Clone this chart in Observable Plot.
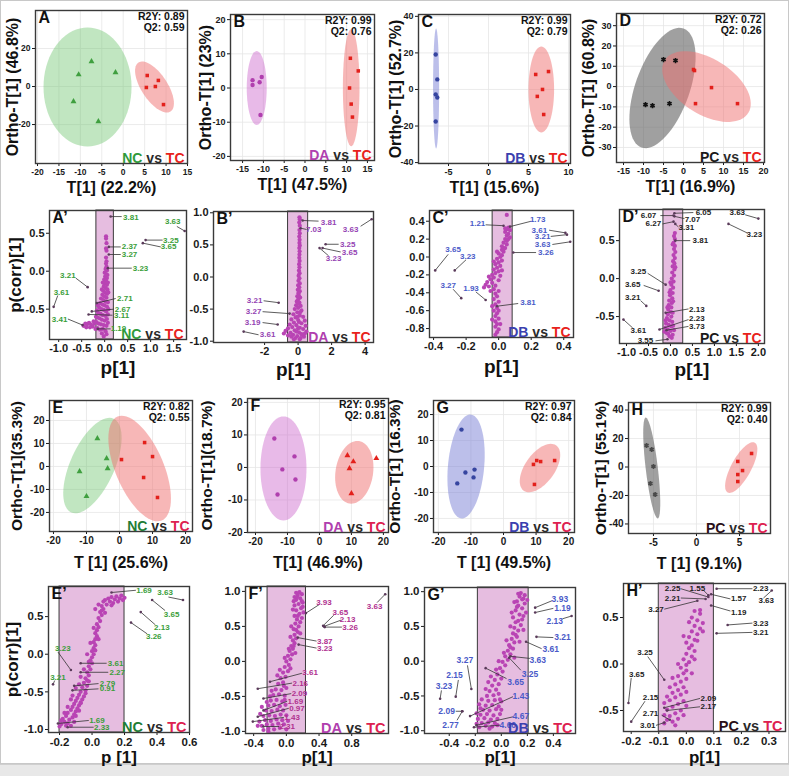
<!DOCTYPE html>
<html><head><meta charset="utf-8">
<script src="https://cdn.jsdelivr.net/npm/d3@7"></script>
<script src="https://cdn.jsdelivr.net/npm/@observablehq/plot@0.6"></script>
<style>
body{margin:0;background:#fff}
#fig{position:relative;width:789px;height:776px;overflow:hidden;background:#fff;font-family:'Liberation Sans',Arial,sans-serif}
</style>
</head><body><div id="fig"></div>
<script>
// ---------------- DATA ----------------
// Score plots (T[1], Ortho-T[1])
const aNC = [[-10.4,6.3],[-7.4,13.2],[-1.8,7.4],[-11.6,-7.9],[-5.8,-18.4]];
const aTC = [[5.6,5.8],[8.2,3.2],[5.4,-0.5],[7.5,0],[9.4,-9.5]];
const bDA = [[-12.6,2.3],[-10.4,3.2],[-10.9,1.7],[-12.6,0.9],[-10.7,-7.9]];
const bTC = [[10.9,8.7],[12.8,5],[10.7,0],[11.1,-4.7],[11.4,-8.5]];
const cDB = [[-6.6,19.1],[-6.4,5.5],[-6.6,-2.7],[-6.4,-4.4],[-6.6,-17.5]];
const cTC = [[5.9,8.2],[7.5,9.8],[6.75,0],[6.1,-3.8],[6.9,-13.7]];
const dPC = [[-9.5,-8.9],[-7.75,-9.4],[-3.5,-8.4],[-5,13.3],[-2,12.8]];
const dTC = [[2.5,8.4],[2.75,7.9],[7,-0.5],[3,-8.4],[13.5,-8.4]];
const eNC = [[-6.7,12.2],[-3.9,3.5],[-3.6,-0.9],[-12.1,-2.2],[-10,-13]];
const eTC = [[7.6,10.4],[10,4.3],[0.6,3],[7.3,-4.8],[11.5,-13.5]];
const fDA = [[-14.1,8.9],[-7.8,3.4],[-11.6,-0.6],[-7.5,-3.7],[-13.1,-8.3]];
const fTC = [[8.75,3.7],[10.6,1.8],[17.8,2.8],[9.4,-0.3],[10,-8]];
const gDB = [[-12.9,14.2],[-8.9,-1.2],[-11.7,-2.3],[-9.2,-4.2],[-14.2,-6.5]];
const gTC = [[9.2,0.8],[10.2,2.3],[11.4,1.9],[15.7,2.3],[9.5,-6.9]];
const hPC = [[-5.8,15.1],[-5.2,12.3],[-5,0.4],[-5.35,-11.6],[-4.8,-19.3]];
const hTC = [[6.4,9.5],[4.8,3.9],[5.35,-2.5],[4.8,-5.3],[4.8,-10.2]];

// confidence ellipses: [centerX, centerY, semiAxis1 (dx,dy), semiAxis2 (dx,dy)]
const aEllNC = [-8.33,-0.26,10.27,0,0,31.3];
const aEllTC = [7.3,-0.26,3.73,-12.9,2.57,3.68];
const bEllDA = [-11.6,0,2.4,0,0,10.8];
const bEllTC = [11.1,0.1,2.0,0,0,17.1];
const cEllDB = [-6.55,0.5,0.38,0,0,32.8];
const cEllTC = [6.6,0,1.6,0,0,23.5];
const dEllPC = [-5.25,-0.7,5.25,29.3,6.4,-4.4];
const dEllTC = [5.75,0,10.5,-12.8,-3.5,-11.8];
const eEllNC = [-8.2,0.4,6.4,20.4,6.1,-3.9];
const eEllTC = [6.1,-0.9,6.7,-22.6,6.7,4.1];
const fEllDA = [-11.25,-0.3,7.2,0,0,16];
const fEllTC = [10.9,-1.5,1.5,9.6,5.8,-0.9];
const gEllDB = [-11.5,0,1.2,20,5.6,0.3];
const gEllTC = [11.2,-0.6,5.2,8.5,3.4,-3.8];
const hEllPC = [-5.2,-0.7,-0.7,35.4,0.7,0.5];
const hEllTC = [5.2,-0.4,1.57,17.5,1.02,-3.3];

// S-plot variables (p[1], p(corr)[1])
const apS = [[0.03,0.46],[0.03,0.43],[0.04,0.37],[0.03,0.3],[0.04,0.27],[0.03,0.18],[0.04,0.13],[0.03,0.1],[0.04,0.06],[0.02,0.03],[0.05,0.01],[0,-0.02],[0.04,-0.04],[0.01,-0.07],[0.05,-0.09],[-0.01,-0.11],[0.03,-0.13],[0,-0.16],[0.05,-0.18],[-0.02,-0.2],[0.02,-0.22],[0.06,-0.24],[-0.03,-0.26],[0.01,-0.28],[0.05,-0.3],[-0.05,-0.31],[-0.01,-0.33],[0.04,-0.35],[-0.08,-0.36],[-0.03,-0.38],[0.02,-0.4],[0.07,-0.41],[-0.1,-0.42],[-0.05,-0.44],[0,-0.45],[0.05,-0.47],[-0.12,-0.48],[-0.07,-0.5],[-0.02,-0.51],[0.03,-0.53],[-0.14,-0.55],[-0.09,-0.56],[-0.04,-0.58],[0.02,-0.59],[-0.16,-0.61],[-0.11,-0.62],[-0.06,-0.64],[0,-0.65],[0.05,-0.63],[-0.18,-0.67],[-0.13,-0.69],[-0.08,-0.7],[-0.02,-0.71],[0.04,-0.72],[-0.16,-0.75],[-0.1,-0.77],[-0.04,-0.76],[0.02,-0.79],[-0.02,-0.86],[-0.46,-0.72],[-0.42,-0.69],[-0.38,-0.7],[-0.34,-0.68],[-0.3,-0.7],[-0.26,-0.73],[-0.22,-0.69],[-0.4,-0.74],[-0.32,-0.74],[-0.24,-0.66],[0.06,-0.05],[0.07,-0.15],[-0.04,-0.15],[0.08,-0.28],[-0.06,-0.24],[0.08,-0.5],[-0.15,-0.45],[-0.17,-0.52],[0.07,-0.57],[-0.19,-0.6],[0.07,-0.68],[-0.2,-0.76],[-0.06,-0.82],[0.04,-0.83]];
const bpS = [[0.08,0.93],[0.1,0.9],[0.07,0.85],[0.1,0.8],[0.08,0.73],[0.1,0.68],[0.07,0.63],[0.09,0.58],[0.08,0.53],[0.1,0.49],[0.07,0.45],[0.09,0.4],[0.08,0.35],[0.07,0.3],[0.09,0.25],[0.06,0.2],[0.08,0.15],[0.05,0.1],[0.09,0.06],[0.03,0.02],[0.08,-0.02],[0.02,-0.06],[0.1,-0.1],[0,-0.13],[0.07,-0.16],[-0.02,-0.2],[0.1,-0.22],[0.03,-0.26],[-0.05,-0.3],[0.12,-0.32],[0,-0.35],[-0.08,-0.38],[0.08,-0.4],[-0.12,-0.44],[0.15,-0.45],[0,-0.48],[-0.2,-0.5],[0.2,-0.52],[-0.05,-0.55],[-0.28,-0.58],[0.1,-0.6],[0.3,-0.62],[-0.15,-0.63],[-0.4,-0.66],[0,-0.67],[0.4,-0.68],[-0.25,-0.71],[0.2,-0.72],[-0.5,-0.74],[-0.1,-0.75],[0.45,-0.76],[-0.35,-0.78],[0.1,-0.79],[-0.6,-0.8],[0.3,-0.81],[-0.2,-0.83],[-0.75,-0.84],[0.05,-0.86],[0.5,-0.85],[-0.45,-0.87],[-0.85,-0.88],[0.2,-0.89],[-0.3,-0.9],[-0.05,-0.92],[0.35,-0.93],[-0.6,-0.91],[-0.15,-0.95],[0.1,-0.97],[0,-0.8],[-0.1,-0.85],[0.25,-0.9],[-0.4,-0.93],[0.15,-0.95],[-0.25,-0.97],[0.4,-0.88],[0.05,-0.7],[-0.05,-0.62],[0.12,-0.55],[0.05,-0.4],[-0.03,-0.42],[0.02,-0.25],[0.06,-0.3]];
const cpS = [[0.05,0.47],[0.06,0.33],[0.05,0.31],[0.07,0.3],[0.04,0.28],[0.06,0.26],[0.05,0.24],[0.07,0.22],[0.04,0.2],[0.05,0.18],[0.03,0.16],[0.05,0.14],[0.02,0.12],[0.04,0.1],[0.02,0.08],[0.03,0.06],[0,0.04],[0.02,0.02],[0.01,0],[-0.01,-0.02],[0.02,-0.04],[0,-0.06],[-0.02,-0.08],[0.01,-0.1],[-0.01,-0.12],[-0.03,-0.14],[0,-0.16],[-0.02,-0.18],[-0.04,-0.2],[0.01,-0.21],[-0.03,-0.23],[-0.05,-0.25],[0,-0.26],[-0.07,-0.28],[-0.04,-0.29],[-0.08,-0.31],[-0.02,-0.32],[-0.06,-0.33],[-0.09,-0.34],[-0.03,-0.36],[0,-0.38],[-0.02,-0.41],[-0.01,-0.44],[-0.03,-0.47],[0,-0.5],[-0.02,-0.53],[-0.01,-0.57],[-0.03,-0.6],[-0.01,-0.63],[-0.02,-0.66],[0,-0.69],[-0.02,-0.72],[-0.01,-0.75],[-0.02,-0.78],[0,-0.81],[-0.01,-0.84],[-0.02,-0.87],[0.04,0.32],[0.06,0.2],[0.03,0.1],[-0.01,0.06],[-0.03,-0.05],[0.02,-0.15],[-0.06,-0.22],[-0.05,-0.38],[-0.04,-0.55],[-0.04,-0.7],[0,-0.6],[0.01,-0.75]];
const dpS = [[0.1,0.6],[0.08,0.56],[0.1,0.52],[0.07,0.47],[0.1,0.43],[0.08,0.39],[0.11,0.35],[0.07,0.31],[0.1,0.27],[0.06,0.23],[0.09,0.2],[0.05,0.16],[0.09,0.12],[0.04,0.08],[0.08,0.04],[0.03,0],[0.07,-0.04],[0.02,-0.08],[0.06,-0.12],[0,-0.15],[0.05,-0.19],[-0.01,-0.22],[0.04,-0.26],[-0.03,-0.29],[0.03,-0.32],[-0.04,-0.35],[0.02,-0.38],[-0.05,-0.41],[0.01,-0.44],[-0.06,-0.47],[0.02,-0.5],[-0.08,-0.52],[-0.02,-0.55],[0.04,-0.57],[-0.1,-0.59],[-0.04,-0.61],[0.02,-0.63],[-0.12,-0.65],[-0.06,-0.67],[0,-0.69],[-0.08,-0.72],[0.05,-0.74],[-0.02,-0.76],[0.03,-0.78],[0.05,0.45],[0.11,0.15],[0,-0.05],[-0.02,-0.18],[0.06,-0.3],[-0.07,-0.38],[0.05,-0.45],[-0.11,-0.55],[0.06,-0.62],[-0.14,-0.7],[-0.05,-0.73],[0.08,-0.68]];
const epS = [[-0.19,-0.93],[-0.17,-0.9],[-0.15,-0.92],[-0.18,-0.86],[-0.14,-0.87],[-0.16,-0.82],[-0.12,-0.84],[-0.15,-0.78],[-0.11,-0.8],[-0.13,-0.74],[-0.1,-0.76],[-0.12,-0.7],[-0.09,-0.72],[-0.11,-0.66],[-0.08,-0.68],[-0.1,-0.62],[-0.07,-0.64],[-0.09,-0.58],[-0.06,-0.6],[-0.08,-0.54],[-0.05,-0.56],[-0.07,-0.5],[-0.04,-0.48],[-0.06,-0.44],[-0.03,-0.42],[-0.05,-0.38],[-0.02,-0.36],[-0.04,-0.32],[-0.02,-0.28],[-0.03,-0.24],[-0.01,-0.2],[-0.02,-0.16],[0,-0.12],[-0.01,-0.08],[0,-0.04],[0.01,0],[0,0.04],[0.01,0.08],[0.02,0.12],[0.01,0.16],[0.02,0.2],[0.03,0.24],[0.02,0.28],[0.03,0.32],[0.04,0.36],[0.03,0.4],[0.05,0.44],[0.04,0.48],[0.06,0.52],[0.05,0.56],[0.07,0.6],[0.06,0.64],[0.09,0.66],[0.11,0.7],[0.13,0.68],[0.14,0.73],[0.16,0.7],[0.17,0.74],[0.19,0.72],[0.08,0.72],[0.12,0.76],[-0.2,-0.96],[-0.13,-0.95],[0.02,0.6],[0.04,0.66],[0.07,0.7],[0.1,0.74],[0.15,0.77],[0.18,0.78],[0.2,0.75],[0.12,0.65],[0.06,0.58],[0.08,0.55],[-0.03,0],[0.02,0.05],[-0.01,0.15],[0.04,0.2],[0.01,0.35],[-0.02,-0.1],[-0.05,-0.2],[-0.07,-0.3],[-0.03,-0.35],[-0.08,-0.4],[-0.1,-0.45],[-0.04,-0.52],[-0.12,-0.55],[-0.13,-0.6],[-0.07,-0.65],[-0.15,-0.7],[-0.08,-0.75],[-0.17,-0.78],[-0.1,-0.82],[-0.19,-0.88],[-0.11,-0.9],[-0.16,-0.95]];
const fpS = [[-0.28,-0.98],[-0.22,-0.96],[-0.15,-0.97],[-0.08,-0.95],[-0.3,-0.92],[-0.24,-0.9],[-0.17,-0.91],[-0.1,-0.89],[-0.03,-0.9],[-0.33,-0.86],[-0.26,-0.84],[-0.19,-0.85],[-0.12,-0.83],[-0.05,-0.84],[-0.28,-0.78],[-0.21,-0.77],[-0.14,-0.78],[-0.07,-0.76],[0,-0.77],[-0.25,-0.7],[-0.18,-0.71],[-0.11,-0.69],[-0.04,-0.7],[-0.22,-0.63],[-0.15,-0.62],[-0.08,-0.64],[-0.01,-0.62],[-0.19,-0.56],[-0.12,-0.55],[-0.05,-0.57],[-0.16,-0.48],[-0.09,-0.47],[-0.02,-0.49],[-0.13,-0.4],[-0.06,-0.41],[0,-0.38],[-0.1,-0.32],[-0.04,-0.3],[-0.07,-0.24],[-0.01,-0.22],[-0.04,-0.16],[0.02,-0.14],[-0.02,-0.08],[0.03,-0.05],[0,0],[0.05,0.03],[0.02,0.08],[0.07,0.1],[0.04,0.15],[0.08,0.18],[0.06,0.22],[0.1,0.26],[0.08,0.3],[0.12,0.33],[0.1,0.38],[0.14,0.42],[0.09,0.46],[0.15,0.5],[0.11,0.54],[0.17,0.56],[0.13,0.6],[0.19,0.62],[0.1,0.65],[0.16,0.68],[0.21,0.7],[0.12,0.73],[0.18,0.76],[0.1,0.8],[0.15,0.82],[0.2,0.84],[0.12,0.88],[0.17,0.9],[0.1,0.92],[0.14,0.95],[0.19,0.96],[0.12,0.98],[0.16,0.99],[0.13,0.92],[0.09,0.86],[0.19,0.86],[0.08,0.74],[0.2,0.78],[0.14,0.65],[0.06,0.5],[0.12,0.45],[0.17,0.4],[0.05,0.35],[0.09,0.22],[0.03,0.18],[0.11,0.12],[-0.02,0.05],[0.05,-0.1],[-0.08,-0.12],[-0.11,-0.2],[-0.03,-0.35],[-0.18,-0.42],[-0.2,-0.5],[-0.24,-0.58],[-0.02,-0.55],[-0.3,-0.65],[-0.32,-0.75],[0.02,-0.85],[-0.35,-0.92],[-0.22,-1.0],[0,-0.97]];
const gpS = [[-0.17,-0.95],[-0.12,-0.93],[-0.07,-0.94],[-0.15,-0.89],[-0.1,-0.88],[-0.05,-0.89],[-0.18,-0.83],[-0.13,-0.82],[-0.08,-0.84],[-0.03,-0.83],[-0.16,-0.77],[-0.11,-0.76],[-0.06,-0.78],[-0.01,-0.76],[-0.14,-0.7],[-0.09,-0.71],[-0.04,-0.69],[-0.12,-0.64],[-0.07,-0.63],[-0.02,-0.65],[-0.1,-0.57],[-0.05,-0.56],[0,-0.58],[-0.11,-0.5],[-0.06,-0.49],[-0.02,-0.47],[-0.09,-0.43],[-0.04,-0.41],[-0.07,-0.35],[-0.02,-0.33],[-0.05,-0.27],[0,-0.25],[-0.03,-0.19],[0.01,-0.15],[-0.01,-0.1],[0.03,-0.06],[0.01,-0.01],[0.05,0.02],[0.03,0.07],[0.07,0.1],[0.05,0.15],[0.09,0.18],[0.06,0.23],[0.1,0.27],[0.08,0.32],[0.12,0.35],[0.09,0.4],[0.13,0.44],[0.1,0.48],[0.15,0.52],[0.11,0.56],[0.16,0.6],[0.09,0.63],[0.14,0.67],[0.19,0.7],[0.11,0.73],[0.16,0.76],[0.13,0.8],[0.18,0.83],[0.12,0.86],[0.16,0.89],[0.14,0.93],[0.18,0.95],[0.15,0.98],[0.13,0.97],[0.17,0.9],[0.1,0.85],[0.2,0.88],[0.12,0.78],[0.08,0.7],[0.17,0.65],[0.13,0.58],[0.07,0.5],[0.17,0.45],[0.11,0.38],[0.04,0.3],[0.14,0.28],[0.07,0.2],[0.02,0.12],[0.1,0.05],[-0.02,0],[-0.04,-0.12],[-0.08,-0.22],[-0.1,-0.3],[-0.12,-0.4],[-0.15,-0.55],[-0.17,-0.62],[-0.16,-0.68],[-0.19,-0.75],[-0.19,-0.9],[-0.03,-0.92],[-0.09,-0.97],[0,-0.7],[-0.01,-0.55]];
const hpS = [[0.03,0.57],[0.05,0.54],[0.02,0.5],[0.04,0.47],[0.06,0.44],[0.03,0.41],[0.05,0.38],[0.02,0.35],[0.04,0.32],[0.01,0.29],[0.03,0.26],[0,0.23],[0.02,0.2],[0.01,0.17],[0.03,0.14],[0,0.11],[0.02,0.08],[-0.01,0.05],[0.01,0.02],[0,-0.01],[-0.02,-0.04],[0,-0.07],[-0.01,-0.1],[-0.03,-0.13],[0,-0.16],[-0.02,-0.19],[-0.04,-0.22],[-0.01,-0.25],[-0.03,-0.28],[-0.05,-0.31],[-0.02,-0.33],[-0.04,-0.36],[-0.06,-0.39],[-0.01,-0.4],[-0.03,-0.43],[-0.05,-0.46],[-0.07,-0.49],[-0.02,-0.5],[-0.04,-0.53],[-0.06,-0.56],[-0.03,-0.59],[-0.05,-0.62],[-0.07,-0.6],[0.05,0.58],[0.01,0.45],[0.06,0.35],[-0.01,0.3],[0.04,0.25],[0.03,0.05],[-0.03,0],[0.02,-0.1],[-0.05,-0.15],[-0.06,-0.25],[0,-0.3],[-0.07,-0.35],[-0.08,-0.42],[0,-0.45],[-0.08,-0.55],[-0.01,-0.55],[-0.08,-0.64],[-0.04,-0.66]];

// labelled variables: [label, p, pcorr, leaderEndP, leaderEndPcorr, labelP, labelPcorr]
const apLab = [["3.81",0.13,0.72,0.37,0.72,0.57,0.71],["3.63",1.74,0.53,1.57,0.59,1.48,0.66],["3.25",0.89,0.41,1.26,0.41,1.44,0.41],["3.65",0.83,0.37,1.22,0.32,1.39,0.32],["2.37",0.09,0.32,0.35,0.32,0.54,0.32],["3.27",0.09,0.22,0.35,0.22,0.54,0.22],["3.23",0.07,0.04,0.59,0.04,0.78,0.04],["3.21",-0.37,-0.21,-0.63,-0.09,-0.8,-0.05],["3.61",-1.11,-0.47,-1.02,-0.32,-0.94,-0.28],["2.71",-0.17,-0.42,0.24,-0.36,0.44,-0.36],["2.67",-0.28,-0.53,0.2,-0.5,0.39,-0.5],["3.11",-0.35,-0.57,0.17,-0.58,0.37,-0.58],["3.41",-0.48,-0.71,-0.8,-0.63,-0.98,-0.63],["1.19",-0.15,-0.76,0.13,-0.76,0.3,-0.75]];
const bpLab = [["3.81",0.27,0.88,1.22,0.87,1.82,0.85],["7.03",0.15,0.76,0.51,0.74,0.93,0.74],["3.63",4.39,0.9,3.73,0.79,3.13,0.74],["3.25",1.64,0.51,2.42,0.51,2.96,0.51],["3.65",1.46,0.45,2.54,0.39,3.07,0.39],["3.23",1.28,0.45,1.82,0.33,2.12,0.29],["3.21",-1.16,-0.4,-2.06,-0.37,-2.6,-0.37],["3.27",-0.51,-0.57,-2.12,-0.54,-2.66,-0.54],["3.19",-1.22,-0.74,-2.12,-0.71,-2.72,-0.71],["3.61",-3.25,-0.85,-2.36,-0.9,-1.82,-0.9]];
const cpLab = [["1.21",0.03,0.35,-0.08,0.36,-0.13,0.37],["1.73",0.07,0.34,0.2,0.4,0.24,0.42],["3.61",0.41,0.27,0.31,0.3,0.25,0.3],["3.21",0.42,0.25,0.32,0.23,0.27,0.23],["3.63",0.44,0.17,0.33,0.14,0.27,0.14],["3.26",0.09,0.05,0.23,0.05,0.29,0.05],["3.65",-0.39,-0.15,-0.31,0.03,-0.28,0.08],["3.23",-0.27,-0.15,-0.2,-0.03,-0.19,0.01],["3.27",-0.23,-0.46,-0.28,-0.36,-0.31,-0.32],["1.93",-0.08,-0.48,-0.14,-0.39,-0.17,-0.35],["3.81",-0.01,-0.55,0.12,-0.52,0.18,-0.51]];
const dpLab = [["6.07",0.07,0.83,-0.23,0.83,-0.5,0.83],["6.05",0.09,0.86,0.52,0.87,0.75,0.87],["7.07",0.09,0.82,0.32,0.79,0.5,0.78],["6.27",0.07,0.75,-0.18,0.72,-0.39,0.72],["3.31",0.11,0.72,0.18,0.68,0.36,0.68],["3.63",2.0,0.79,1.7,0.84,1.52,0.87],["3.23",1.32,0.72,1.75,0.6,1.91,0.58],["3.81",0.11,0.5,0.45,0.5,0.68,0.5],["3.25",-0.11,-0.08,-0.52,0.07,-0.73,0.1],["3.65",-0.27,-0.16,-0.61,-0.09,-0.86,-0.08],["3.21",-0.55,-0.36,-0.68,-0.29,-0.86,-0.25],["2.13",-0.11,-0.45,0.41,-0.4,0.6,-0.4],["2.23",-0.25,-0.67,0.41,-0.54,0.6,-0.53],["3.73",-0.09,-0.68,0.41,-0.63,0.6,-0.63],["3.61",-1.07,-0.54,-0.86,-0.65,-0.73,-0.68],["3.55",-0.07,-0.8,-0.34,-0.82,-0.57,-0.82]];
const epLab = [["1.69",0.12,0.82,0.27,0.85,0.32,0.85],["3.63",0.56,0.72,0.47,0.76,0.45,0.82],["3.65",0.37,0.72,0.45,0.58,0.49,0.53],["2.13",0.3,0.56,0.39,0.39,0.43,0.35],["3.26",0.24,0.42,0.34,0.27,0.38,0.23],["3.23",-0.13,-0.21,-0.21,0.03,-0.18,0.08],["3.21",-0.24,-0.4,-0.23,-0.35,-0.21,-0.31],["3.61",-0.07,-0.12,0.09,-0.12,0.145,-0.12],["2.27",-0.07,-0.24,0.1,-0.24,0.155,-0.24],["2.79",-0.11,-0.42,0.04,-0.39,0.095,-0.39],["0.91",-0.12,-0.48,0.04,-0.46,0.095,-0.46],["1.69",-0.21,-0.92,-0.02,-0.88,0.03,-0.88],["2.33",-0.15,-0.97,0.01,-0.97,0.06,-0.97]];
const fpLab = [["3.63",1.21,0.96,1.11,0.84,1.08,0.79],["3.93",0.24,0.69,0.4,0.81,0.46,0.84],["3.65",0.45,0.51,0.58,0.66,0.66,0.7],["2.13",0.46,0.5,0.67,0.59,0.75,0.6],["3.26",0.47,0.49,0.68,0.49,0.78,0.49],["3.87",0.14,0.34,0.37,0.29,0.47,0.29],["3.23",0.15,0.24,0.37,0.19,0.47,0.19],["3.61",-0.2,-0.29,0.19,-0.17,0.29,-0.16],["2.16",-0.35,-0.39,0.07,-0.31,0.17,-0.31],["2.09",-0.28,-0.53,0.06,-0.46,0.16,-0.46],["1.69",-0.28,-0.7,0.01,-0.57,0.11,-0.57],["0.97",-0.35,-0.79,0.03,-0.67,0.13,-0.67],["1.43",-0.41,-0.86,-0.03,-0.8,0.07,-0.8],["2.31",-0.28,-0.93,-0.09,-0.93,0.01,-0.93]];
const gpLab = [["3.93",0.26,0.77,0.39,0.87,0.45,0.89],["1.19",0.26,0.7,0.4,0.76,0.47,0.76],["2.13",0.54,0.65,0.47,0.61,0.41,0.58],["3.21",0.27,0.35,0.4,0.34,0.47,0.34],["3.61",0.19,0.28,0.31,0.18,0.38,0.17],["3.63",0.07,0.07,0.22,0.04,0.28,0.02],["3.25",0.06,0.05,0.15,-0.13,0.22,-0.19],["3.65",-0.12,-0.1,0.04,-0.25,0.11,-0.31],["3.27",-0.23,-0.4,-0.26,-0.06,-0.28,0.01],["2.15",-0.35,-0.51,-0.33,-0.27,-0.36,-0.2],["3.23",-0.47,-0.54,-0.46,-0.42,-0.44,-0.36],["2.09",-0.3,-0.72,-0.35,-0.72,-0.42,-0.72],["2.77",-0.3,-0.72,-0.34,-0.85,-0.39,-0.92],["1.43",-0.24,-0.79,0.09,-0.51,0.15,-0.51],["4.67",-0.19,-0.92,0.09,-0.8,0.15,-0.79],["4.60",-0.21,-0.95,-0.01,-0.92,0.05,-0.92]];
const hpLab = [["2.25",0.08,0.72,-0.02,0.81,-0.05,0.81],["1.55",0.08,0.74,0.06,0.8,0.04,0.81],["2.21",0.07,0.7,-0.02,0.71,-0.05,0.71],["3.27",0.04,0.68,-0.08,0.59,-0.11,0.59],["2.23",0.11,0.81,0.24,0.81,0.27,0.81],["1.57",0.09,0.75,0.16,0.7,0.19,0.7],["3.63",0.31,0.79,0.28,0.71,0.29,0.68],["1.19",0.09,0.63,0.16,0.57,0.19,0.56],["3.23",0.15,0.42,0.24,0.44,0.27,0.44],["3.21",0.11,0.33,0.24,0.34,0.27,0.34],["3.25",-0.08,-0.17,-0.14,0.08,-0.15,0.12],["3.65",-0.21,-0.42,-0.2,-0.15,-0.18,-0.11],["2.09",-0.08,-0.47,0.05,-0.37,0.08,-0.37],["2.17",-0.07,-0.5,0.05,-0.46,0.08,-0.46],["2.15",-0.2,-0.62,-0.15,-0.4,-0.13,-0.36],["2.71",-0.06,-0.6,-0.09,-0.55,-0.13,-0.53],["3.01",-0.08,-0.63,-0.11,-0.66,-0.14,-0.66]];

// VIP band limits on p[1]
const apBand = [-0.18,0.2], bpBand = [-0.6,0.6], cpBand = [-0.037,0.086], dpBand = [-0.16,0.29];
const epBand = [-0.2,0.2], fpBand = [-0.23,0.24], gpBand = [-0.18,0.21], hpBand = [-0.1,0.1];

// model statistics
const stats = {A:"R2Y: 0.89\nQ2: 0.59", B:"R2Y: 0.99\nQ2: 0.76", C:"R2Y: 0.99\nQ2: 0.79", D:"R2Y: 0.72\nQ2: 0.26",
               E:"R2Y: 0.82\nQ2: 0.55", F:"R2Y: 0.95\nQ2: 0.81", G:"R2Y: 0.97\nQ2: 0.84", H:"R2Y: 0.99\nQ2: 0.40"};

// tick labels
const aXt=[-20,-15,-10,-5,0,5,10,15], aYt=[-20,0,20];
const bXt=[-15,-10,-5,0,5,10,15], bYt=[-20,-10,0,10,20];
const cXt=[-5,0,5,10], cYt=[-40,-20,0,20,40];
const dXt=[-15,-10,-5,0,5,10,15,20], dYt=[-30,-20,-10,0,10,20,30];
const eXt=[-20,-10,0,10,20], eYt=[-20,-10,0,10,20];
const fXt=[-20,-10,0,10,20], fYt=[-20,-10,0,10,20];
const gXt=[-20,-10,0,10,20], gYt=[-20,-10,0,10,20];
const hXt=[-5,0,5], hYt=[-40,-20,0,20,40];
const apXt=[-1,-0.5,0,0.5,1,1.5], apYt=[-0.5,0,0.5];
const bpXt=[-2,0,2,4], bpYt=[-1,-0.5,0,0.5,1];
const cpXt=[-0.4,-0.2,0,0.2,0.4], cpYt=[-0.8,-0.6,-0.4,-0.2,0,0.2,0.4];
const dpXt=[-1,-0.5,0,0.5,1,1.5,2], dpYt=[-0.5,0,0.5];
const epXt=[-0.2,0,0.2,0.4,0.6], epYt=[-1,-0.5,0,0.5];
const fpXt=[-0.4,0,0.4,0.8], fpYt=[-1,-0.5,0,0.5,1];
const gpXt=[-0.4,-0.2,0,0.2,0.4], gpYt=[-1,-0.5,0,0.5,1];
const hpXt=[-0.2,-0.1,0,0.1,0.2,0.3], hpYt=[-0.5,0,0.5];

// ---------------- DRAWING ----------------
const FONT = "Liberation Sans, Arial, Helvetica, sans-serif";
const fig = document.getElementById("fig");
const strip = document.createElement("div");
Object.assign(strip.style, {position:"absolute", left:"0", top:"764px", width:"789px", height:"12px", background:"#e8e8e8", borderTop:"1px solid #cfcfcf"});
fig.appendChild(strip);
const border = document.createElement("div");
Object.assign(border.style, {position:"absolute", left:"0", top:"0", width:"787px", height:"762px", border:"1px solid #c8c8c8"});
fig.appendChild(border);

const fInt = d => String(d).replace("\u2212","-");
const f1 = d => d3.format(".1f")(d).replace("\u2212","-");
const ctx = document.createElement("canvas").getContext("2d");
function tw(s, fs){ ctx.font = `bold ${fs}px ${FONT}`; return ctx.measureText(s).width; }

function ellipse(p){
  const [cx,cy,ax,ay,bx,by] = p;
  return d3.range(73).map(i => { const t = i/72*2*Math.PI;
    return {x: cx + ax*Math.cos(t) + bx*Math.sin(t), y: cy + ay*Math.cos(t) + by*Math.sin(t)}; });
}
function groupMarks(g, fs){
  const [left, lc, tc] = g;
  const wTC = tw("TC", fs), wVs = tw("vs", fs), wSp = tw(" ", fs);
  const base = {frameAnchor:"bottom-right", textAnchor:"end", lineAnchor:"bottom", dy:-1, fontSize:fs, fontWeight:"bold", fontFamily:FONT, text:d=>d};
  return [
    Plot.text(["TC"], {...base, dx:-3, fill:tc}),
    Plot.text(["vs"], {...base, dx:-3-wTC-wSp, fill:"#2a2a2a"}),
    Plot.text([left], {...base, dx:-3-wTC-wSp-wVs-wSp, fill:lc})
  ];
}
function build(cfg){
  const [fx, fy, fw, fh] = cfg.frame;
  const mL=52, mR=8, mT=8, mB=44;
  const marks = [...cfg.marks,
    Plot.frame({stroke:"#3a3a3a", strokeWidth:1.4}),
    Plot.text([cfg.letter], {frameAnchor:"top-left", textAnchor:"start", lineAnchor:"top", dx:3, dy:1, fontSize:16, fontWeight:"bold", fontFamily:FONT, fill:"#111", text:d=>d}),
    ...groupMarks(cfg.group, cfg.gfs || 14),
    Plot.text([cfg.xTitle], {frameAnchor:"bottom", textAnchor:"middle", lineAnchor:"middle", dy:cfg.xdy, fontSize:cfg.xfs, fontWeight:"bold", fontFamily:FONT, fill:"#111", text:d=>d})
  ];
  if (cfg.yTitle) marks.push(Plot.text([cfg.yTitle], {frameAnchor:"left", textAnchor:"middle", lineAnchor:"middle", dx:cfg.ydx, rotate:-90, fontSize:cfg.yfs, fontWeight:"bold", fontFamily:FONT, fill:"#111", text:d=>d}));
  if (cfg.stats) marks.push(Plot.text([cfg.stats], {frameAnchor:"top-right", textAnchor:"end", lineAnchor:"top", dx:-3, dy:2, fontSize:10.5, lineHeight:1.05, fontWeight:"bold", fontFamily:FONT, fill:"#111", text:d=>d}));
  const svg = Plot.plot({
    width: fw+mL+mR, height: fh+mT+mB, marginLeft:mL, marginRight:mR, marginTop:mT, marginBottom:mB,
    x: {domain:cfg.xd, ticks:cfg.xt, tickFormat:cfg.xf, tickSize:3, tickPadding:2, label:null},
    y: {domain:cfg.yd, ticks:cfg.yt, tickFormat:cfg.yf, tickSize:3, tickPadding:2, label:null},
    marks
  });
  Object.assign(svg.style, {position:"absolute", left:(fx-mL)+"px", top:(fy-mT)+"px", background:"transparent",
    overflow:"visible", fontFamily:FONT, fontSize:cfg.tfs+"px", fontWeight:"bold", color:"#1a1a1a", maxWidth:"none"});
  fig.appendChild(svg);
}

const C = {green:"#3f9f3f", red:"#e3201b", mag:"#b03fae", blue:"#3645a0", black:"#111", grey:"#4a4a4a"};
const ELL = {green:["#6cc46c",0.42], red:["#f07070",0.5], mag:["#cc66cc",0.45], blue:["#7a80d6",0.5], grey:["#666",0.62]};
const TC1 = "#e8221b", TC2 = "#dd2150";

function scoreMarks(xt, yt, ells, groups){
  return [
    Plot.ruleX(xt, {stroke:"#e6e6e6", strokeWidth:0.8}),
    Plot.ruleY(yt, {stroke:"#e6e6e6", strokeWidth:0.8}),
    ...ells.map(([p,c]) => Plot.line(ellipse(p), {x:"x", y:"y", fill:ELL[c][0], fillOpacity:ELL[c][1], stroke:"none", curve:"linear-closed"})),
    ...groups.map(([pts,sym,col,r]) => sym === "asterisk"
      ? Plot.dot(pts, {x:d=>d[0], y:d=>d[1], symbol:sym, stroke:col, strokeWidth:1.6, fill:"none", r:r||2.4})
      : Plot.dot(pts, {x:d=>d[0], y:d=>d[1], symbol:sym, fill:col, stroke:"none", r:r||2.2}))
  ];
}
function sMarks(band, pts, labs, labColor, lfs){
  const L = labs.map(([n,px,py,lx,ly,tx,ty]) => ({n,px,py,lx,ly,tx,ty}));
  return [
    Plot.rect([band], {x1:d=>d[0], x2:d=>d[1], fill:"#e6bde0", stroke:"#3a3a3a", strokeWidth:1}),
    Plot.dot(pts, {x:d=>d[0], y:d=>d[1], r:2.1, fill:"#b944b4", stroke:"none"}),
    Plot.link(L, {x1:"px", y1:"py", x2:"lx", y2:"ly", stroke:"#333", strokeWidth:0.8}),
    Plot.dot(L, {x:"px", y:"py", r:1.3, fill:"#5a3a5a"}),
    Plot.text(L, {x:"tx", y:"ty", text:"n", fill:labColor, fontSize:lfs||8, fontWeight:"bold", fontFamily:FONT})
  ];
}

// Row 1
build({frame:[35,10,152,153], xd:[-20.47,15], yd:[-40.5,40], xt:aXt, yt:aYt, xf:fInt, yf:fInt, tfs:8.5,
  letter:"A", stats:stats.A, group:["NC","#2f9a3a",TC1], xTitle:"T[1] (22.2%)", xdy:24, xfs:16, yTitle:"Ortho-T[1] (46.8%)", ydx:-23, yfs:16,
  marks:scoreMarks(aXt,aYt,[[aEllNC,"green"],[aEllTC,"red"]],[[aNC,"triangle",C.green],[aTC,"square",C.red,2]])});
build({frame:[230,14,144,146], xd:[-17.9,16.7], yd:[-21.2,21.5], xt:bXt, yt:bYt, xf:fInt, yf:fInt, tfs:9,
  letter:"B", stats:stats.B, group:["DA","#b03fae",TC1], xTitle:"T[1] (47.5%)", xdy:24, xfs:16, yTitle:"Ortho-T[1] (23%)", ydx:-25, yfs:16,
  marks:scoreMarks(bXt,bYt,[[bEllDA,"mag"],[bEllTC,"red"]],[[bDA,"circle",C.mag],[bTC,"square",C.red,2]])});
build({frame:[418,14,152,149], xd:[-8.75,10.25], yd:[-40.5,41], xt:cXt, yt:cYt, xf:fInt, yf:fInt, tfs:9,
  letter:"C", stats:stats.C, group:["DB","#3b3fae",TC1], xTitle:"T[1] (15.6%)", xdy:24, xfs:16, yTitle:"Ortho-T[1] (52.7%)", ydx:-23, yfs:16,
  marks:scoreMarks(cXt,cYt,[[cEllDB,"blue"],[cEllTC,"red"]],[[cDB,"circle",C.blue],[cTC,"square",C.red,2]])});
build({frame:[616,13,148,149], xd:[-16.75,20.25], yd:[-37.4,36], xt:dXt, yt:dYt, xf:fInt, yf:fInt, tfs:9,
  letter:"D", stats:stats.D, group:["PC","#1a1a1a",TC1], xTitle:"T[1] (16.9%)", xdy:24, xfs:16, yTitle:"Ortho-T[1] (60.8%)", ydx:-28, yfs:16,
  marks:scoreMarks(dXt,dYt,[[dEllPC,"grey"],[dEllTC,"red"]],[[dPC,"asterisk",C.black,2.4],[dTC,"square",C.red,2]])});

// Row 2
build({frame:[49,210,137,129], xd:[-1.2,1.78], yd:[-0.9,0.8], xt:apXt, yt:apYt, xf:f1, yf:f1, tfs:11,
  letter:"A\u2019", group:["NC","#2f9a3a",TC1], xTitle:"p[1]", xdy:28, xfs:19, yTitle:"p(corr)[1]", ydx:-34, yfs:17,
  marks:sMarks(apBand, apS, apLab, "#3a9e3a")});
build({frame:[213,211,160,131], xd:[-5.05,4.5], yd:[-1.02,1.02], xt:bpXt, yt:bpYt, xf:fInt, yf:f1, tfs:11,
  letter:"B\u2019", group:["DA","#b03fae",TC1], xTitle:"p[1]", xdy:27, xfs:19,
  marks:sMarks(bpBand, bpS, bpLab, "#9443b3")});
build({frame:[429,210,144,127], xd:[-0.425,0.46], yd:[-0.9,0.52], xt:cpXt, yt:cpYt, xf:f1, yf:f1, tfs:11,
  letter:"C\u2019", group:["DB","#3b3fae",TC1], xTitle:"p[1]", xdy:29, xfs:19,
  marks:sMarks(cpBand, cpS, cpLab, "#4a5ac8")});
build({frame:[619,209,145,134], xd:[-1.16,2.14], yd:[-0.855,0.91], xt:dpXt, yt:dpYt, xf:f1, yf:f1, tfs:11,
  letter:"D\u2019", group:["PC","#1a1a1a",TC1], xTitle:"p[1]", xdy:26, xfs:19,
  marks:sMarks(dpBand, dpS, dpLab, "#222")});

// Row 3
build({frame:[49,400,143,131], xd:[-21.2,22.1], yd:[-28.3,28.7], xt:eXt, yt:eYt, xf:fInt, yf:fInt, tfs:10,
  letter:"E", stats:stats.E, group:["NC","#1f7d36",TC2], xTitle:"T [1] (25.6%)", xdy:31, xfs:16, yTitle:"Ortho-T[1](35.3%)", ydx:-32, yfs:15.5,
  marks:scoreMarks(eXt,eYt,[[eEllNC,"green"],[eEllTC,"red"]],[[eNC,"triangle",C.green],[eTC,"square",C.red,2]])});
build({frame:[247,398,141,134], xd:[-22.5,21.6], yd:[-20,21.2], xt:fXt, yt:fYt, xf:fInt, yf:fInt, tfs:10,
  letter:"F", stats:stats.F, group:["DA","#b03fae",TC2], xTitle:"T[1] (46.9%)", xdy:30, xfs:16, yTitle:"Ortho-T[1](18.7%)", ydx:-40, yfs:15.5,
  marks:scoreMarks(fXt,fYt,[[fEllDA,"mag"],[fEllTC,"red"]],[[fDA,"circle",C.mag],[fTC,"triangle",C.red]])});
build({frame:[433,400,141,132], xd:[-21.5,21.8], yd:[-25.4,25.4], xt:gXt, yt:gYt, xf:fInt, yf:fInt, tfs:10,
  letter:"G", stats:stats.G, group:["DB","#3b3fae",TC2], xTitle:"T [1] (49.5%)", xdy:30, xfs:16, yTitle:"Ortho-T[1] (16.3%)", ydx:-38, yfs:15.5,
  marks:scoreMarks(gXt,gYt,[[gEllDB,"blue"],[gEllTC,"red"]],[[gDB,"circle",C.blue],[gTC,"square",C.red,2]])});
build({frame:[628,402,142,131], xd:[-7.9,8.6], yd:[-46.7,45.3], xt:hXt, yt:hYt, xf:fInt, yf:fInt, tfs:10,
  letter:"H", stats:stats.H, group:["PC","#2a1018",TC2], xTitle:"T [1] (9.1%)", xdy:30, xfs:16, yTitle:"Ortho-T[1] (55.1%)", ydx:-27, yfs:15.5,
  marks:scoreMarks(hXt,hYt,[[hEllPC,"grey"],[hEllTC,"red"]],[[hPC,"asterisk",C.grey,2.3],[hTC,"square",C.red,2]])});

// Row 4
build({frame:[48,586,141,146], xd:[-0.268,0.6], yd:[-1.04,0.9], xt:epXt, yt:epYt, xf:f1, yf:f1, tfs:11.5,
  letter:"E\u2019", group:["NC","#1f7d36",TC2], gfs:14.5, xTitle:"p [1]", xdy:25, xfs:17, yTitle:"p(corr)[1]", ydx:-36, yfs:17,
  marks:sMarks(epBand, epS, epLab, "#3a9e3a")});
build({frame:[245,586,143,147], xd:[-0.5,1.25], yd:[-1.03,1.07], xt:fpXt, yt:fpYt, xf:f1, yf:f1, tfs:11.5,
  letter:"F\u2019", group:["DA","#b03fae",TC2], gfs:14.5, xTitle:"p[1]", xdy:24, xfs:17,
  marks:sMarks(fpBand, fpS, fpLab, "#b0308f")});
build({frame:[424,587,151,146], xd:[-0.59,0.57], yd:[-1.04,1.06], xt:gpXt, yt:gpYt, xf:f1, yf:f1, tfs:11.5,
  letter:"G\u2019", group:["DB","#3b3fae",TC2], gfs:14.5, xTitle:"p[1]", xdy:24, xfs:17,
  marks:sMarks(gpBand, gpS, gpLab, "#4a5ac8", 8.5)});
build({frame:[623,583,162,148], xd:[-0.228,0.36], yd:[-0.726,0.866], xt:hpXt, yt:hpYt, xf:f1, yf:f1, tfs:11.5,
  letter:"H\u2019", group:["PC","#2a1018",TC2], gfs:14.5, xTitle:"p[1]", xdy:26, xfs:17,
  marks:sMarks(hpBand, hpS, hpLab, "#222")});
</script>
</body></html>
